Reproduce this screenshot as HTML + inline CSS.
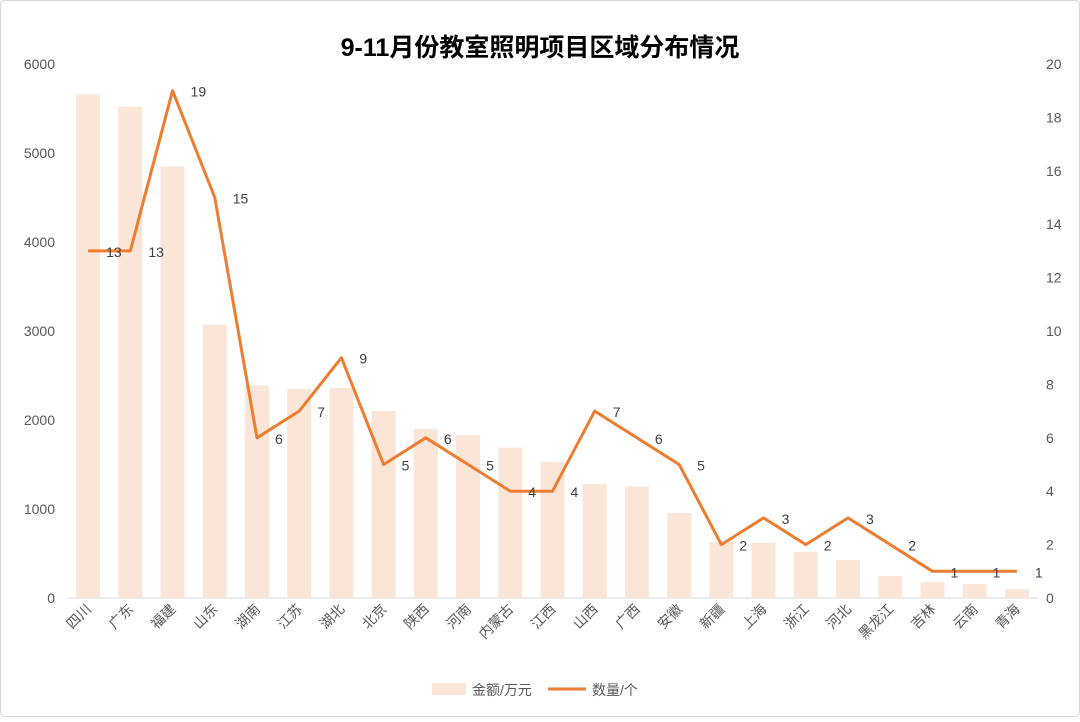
<!DOCTYPE html>
<html><head><meta charset="utf-8"><style>
html,body{margin:0;padding:0;background:#fff;}
svg text{font-family:"Liberation Sans","Noto Sans CJK SC",sans-serif;}
</style></head><body>
<svg id="chart" width="1080" height="717" xmlns="http://www.w3.org/2000/svg">
<rect x="0.5" y="0.5" width="1079" height="716" rx="4" fill="#fff" stroke="#d9d9d9"/>
<text x="540" y="56" text-anchor="middle" font-size="25" font-weight="bold" fill="#000">9-11月份教室照明项目区域分布情况</text>
<g id="plot"></g>
<g>
<rect x="432" y="683" width="34" height="12" fill="#fbe5d6"/>
<text x="472" y="695" font-size="14" fill="#595959">金额/万元</text>
<line x1="548" y1="689" x2="586" y2="689" stroke="#ed7d31" stroke-width="3"/>
<text x="592" y="695" font-size="14" fill="#595959">数量/个</text>
</g>
</svg>
<script>
const categories=["四川","广东","福建","山东","湖南","江苏","湖北","北京","陕西","河南","内蒙古","江西","山西","广西","安徽","新疆","上海","浙江","河北","黑龙江","吉林","云南","青海"];
const amounts=[5660,5520,4850,3070,2390,2350,2360,2100,1900,1830,1690,1530,1280,1250,955,630,620,517,427,247,180,157,100];
const counts=[13,13,19,15,6,7,9,5,6,5,4,4,7,6,5,2,3,2,3,2,1,1,1];
const leftTicks=[0,1000,2000,3000,4000,5000,6000];
const rightTicks=[0,2,4,6,8,10,12,14,16,18,20];
const NS="http://www.w3.org/2000/svg";
const g=document.getElementById('plot');
const X0=67,X1=1038,Y0=598,Y1=64;
const step=(X1-X0)/categories.length;
const xc=i=>X0+step*(i+0.5);
const yL=v=>Y0-(v/6000)*(Y0-Y1);
const yR=v=>Y0-(v/20)*(Y0-Y1);
function mk(t,a,txt){const e=document.createElementNS(NS,t);for(const k in a)e.setAttribute(k,a[k]);if(txt!==undefined)e.textContent=txt;g.appendChild(e);return e;}
leftTicks.forEach(v=>{const e=mk('text',{x:55,y:yL(v)+5,'text-anchor':'end','font-size':14,fill:'#595959'},v);

});
rightTicks.forEach(v=>{const e=mk('text',{x:1046,y:yR(v)+5,'font-size':14,fill:'#595959'},v);

});
const ax=mk('line',{x1:X0,y1:Y0,x2:X1,y2:Y0,stroke:'#d9d9d9'});


amounts.forEach((v,i)=>{const r=mk('rect',{x:xc(i)-12,y:yL(v),width:24,height:Y0-yL(v),fill:'#fbe5d6'});

});
categories.forEach((c,i)=>{const x=xc(i)+4,y=Y0+12;const t=mk('text',{x:x,y:y,'text-anchor':'end','font-size':14,fill:'#595959',transform:`rotate(-45 ${x} ${y})`},c);

});
const pts=counts.map((v,i)=>xc(i)+','+yR(v)).join(' ');
const pl=mk('polyline',{points:pts,fill:'none',stroke:'#ed7d31','stroke-width':3,'stroke-linejoin':'round'});


counts.forEach((v,i)=>{const t=mk('text',{x:xc(i)+18,y:yR(v)+6,'font-size':14,fill:'#404040'},v);

});
</script>
</body></html>
